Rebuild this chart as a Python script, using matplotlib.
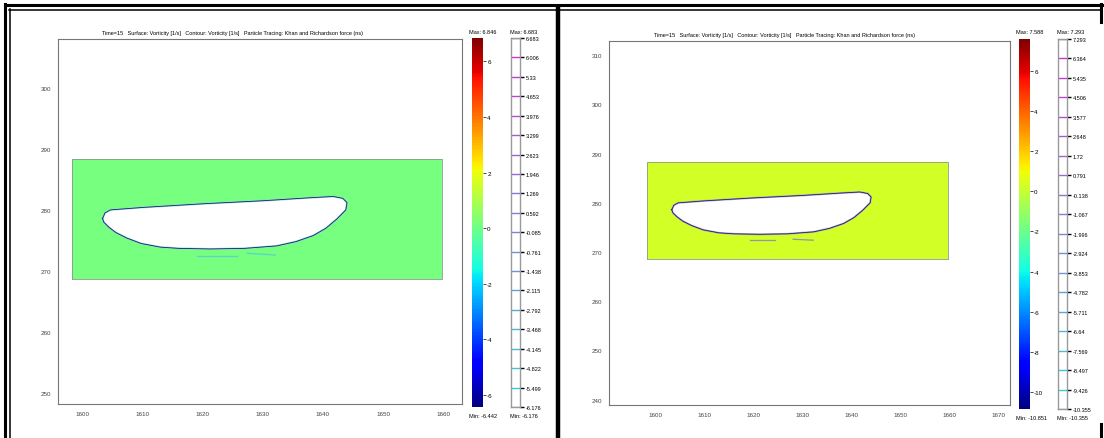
import numpy as np
import matplotlib
matplotlib.use('Agg')
import matplotlib.pyplot as plt
from matplotlib.colors import Normalize
from matplotlib.cm import ScalarMappable
from matplotlib.lines import Line2D

plt.rcParams['font.family'] = ['Liberation Sans', 'DejaVu Sans']
plt.rcParams['axes.unicode_minus'] = False

# ---- data ----
title = 'Time=15   Surface: Vorticity [1/s]   Contour: Vorticity [1/s]   Particle Tracing: Khan and Richardson force (ns)'

domain_x = [1598.3, 1659.7]
domain_y = [268.6, 288.4]

body_x = [1603.4, 1603.8, 1604.7, 1610.0, 1620.0, 1630.0, 1638.0, 1641.7, 1643.3, 1644.0,
          1643.8, 1642.3, 1640.5, 1638.4, 1635.5, 1632.3, 1627.0, 1621.3, 1616.0, 1613.0,
          1609.8, 1607.4, 1605.6, 1604.4, 1603.6]
body_y = [278.6, 279.5, 280.0, 280.4, 281.0, 281.5, 282.0, 282.2, 281.9, 281.2,
          280.0, 278.5, 277.0, 275.8, 274.8, 274.1, 273.7, 273.6, 273.7, 273.9,
          274.5, 275.4, 276.3, 277.2, 278.0]

# left panel
surf_left = 0.1
range_left = [-6.442, 6.846]
levels_left = [6.683, 6.006, 5.33, 4.653, 3.976, 3.299, 2.623, 1.946, 1.269, 0.592,
               -0.085, -0.761, -1.438, -2.115, -2.792, -3.468, -4.145, -4.822, -5.499, -6.176]
cticks_left = [-6, -4, -2, 0, 2, 4, 6]
xticks_left = [1600, 1610, 1620, 1630, 1640, 1650, 1660]
yticks_left = [250, 260, 270, 280, 290, 300]
streaks_left = [([1619.1, 1625.7], [272.5, 272.5]), ([1627.4, 1632.1], [272.9, 272.6])]

# right panel
surf_right = 0.3
range_right = [-10.851, 7.588]
levels_right = [7.293, 6.364, 5.435, 4.506, 3.577, 2.648, 1.72, 0.791, -0.138, -1.067,
                -1.996, -2.924, -3.853, -4.782, -5.711, -6.64, -7.569, -8.497, -9.426, -10.355]
cticks_right = [-10, -8, -6, -4, -2, 0, 2, 4, 6]
xticks_right = [1600, 1610, 1620, 1630, 1640, 1650, 1660, 1670]
yticks_right = [240, 250, 260, 270, 280, 290, 300, 310]
streaks_right = [([1619.3, 1624.5], [272.4, 272.4]), ([1628.1, 1632.2], [272.6, 272.4])]

W, H = 1104, 439
fig = plt.figure(figsize=(W / 100, H / 100), dpi=100)


def box(x0, y0, x1, y1):
    return [x0 / W, 1 - y1 / H, (x1 - x0) / W, (y1 - y0) / H]


def panel(axp, cbp, clp, xlim, ylim, xt, yt, surf, rng, levels, cticks, streaks,
          title_x, title_y, halo, edge):
    ax = fig.add_axes(box(*axp))
    norm = Normalize(rng[0], rng[1])
    ax.pcolormesh(domain_x, domain_y, [[surf]], cmap='jet', norm=norm, shading='flat')
    ax.plot([domain_x[0], domain_x[1], domain_x[1], domain_x[0], domain_x[0]],
            [domain_y[0], domain_y[0], domain_y[1], domain_y[1], domain_y[0]],
            color='#8a9a8a', lw=0.6)
    ax.fill(body_x, body_y, color='white', zorder=3)
    bx = body_x + body_x[:1]
    by = body_y + body_y[:1]
    ax.plot(bx, by, color=halo, lw=1.4, alpha=0.6, zorder=4)
    ax.plot(bx, by, color=edge, lw=0.6, zorder=5)
    for sx, sy in streaks:
        ax.plot(sx, sy, color=halo, lw=0.9, alpha=0.8, zorder=4)
    ax.set_xlim(xlim)
    ax.set_ylim(ylim)
    ax.set_xticks(xt)
    ax.set_yticks(yt)
    ax.tick_params(labelsize=4.5, length=0, pad=5, colors='#444')
    for s in ax.spines.values():
        s.set_color('#777')
        s.set_linewidth(0.8)
    fig.text(title_x / W, 1 - title_y / H, title, fontsize=4, ha='center', va='center')

    # surface colorbar
    cax = fig.add_axes(box(*cbp))
    cb = fig.colorbar(ScalarMappable(norm=norm, cmap='jet'), cax=cax, ticks=cticks)
    cb.outline.set_linewidth(0)
    cb.ax.tick_params(labelsize=4.5, length=2, width=0.5, pad=1)
    fig.text((cbp[0] - 3) / W, 1 - (cbp[1] - 7) / H, 'Max: %g' % rng[1], fontsize=4, va='center')
    fig.text((cbp[0] - 3) / W, 1 - (cbp[3] + 9) / H, 'Min: %g' % rng[0], fontsize=4, va='center')

    # contour legend
    cl = fig.add_axes(box(*clp))
    cn = Normalize(min(levels), max(levels))
    cols = [tuple(0.7 * np.array(plt.cm.cool(cn(v))[:3]) + 0.3 * 0.5) for v in levels]
    cl.hlines(levels, 0, 1, colors=cols, lw=1.0)
    cl.set_xlim(0, 1)
    cl.set_ylim(min(levels), max(levels))
    cl.set_xticks([])
    cl.yaxis.tick_right()
    cl.set_yticks(levels)
    cl.set_yticklabels(['%g' % v for v in levels])
    cl.tick_params(axis='y', labelsize=4, length=3, width=1.0, pad=1)
    for tk, c in zip(cl.yaxis.get_major_ticks(), cols):
        tk.tick2line.set_color(c)
    for s in cl.spines.values():
        s.set_color('#999')
        s.set_linewidth(1)
    fig.text((clp[0] - 1) / W, 1 - (clp[1] - 7) / H, 'Max: %g' % max(levels), fontsize=4, va='center')
    fig.text((clp[0] - 1) / W, 1 - (clp[3] + 9) / H, 'Min: %g' % min(levels), fontsize=4, va='center')


panel((58, 40, 462, 405), (472, 39, 483, 408), (511, 39, 520, 408),
      (1596.0, 1663.1), (248.2, 308.0), xticks_left, yticks_left,
      surf_left, range_left, levels_left, cticks_left, streaks_left,
      233, 34, '#55c8d8', '#14205a')
panel((609, 42, 1010, 406), (1019, 40, 1030, 410), (1058, 40, 1067, 410),
      (1590.6, 1672.3), (238.9, 312.9), xticks_right, yticks_right,
      surf_right, range_right, levels_right, cticks_right, streaks_right,
      785, 35, '#8878d0', '#202050')

# table frame of the scanned page
def fline(x, y, lw):
    fig.add_artist(Line2D([v / W for v in x], [1 - v / H for v in y], color='black',
                          lw=lw, transform=fig.transFigure))

fline([5, 1103], [5.5, 5.5], 2.2)
fline([9, 1101], [10.5, 10.5], 1.1)
fline([5.5, 5.5], [5, 439], 2.2)
fline([10, 10], [10, 439], 1.1)
fline([558, 558], [10, 439], 3.2)
fline([1101, 1101], [5, 23], 2.2)
fline([1101, 1101], [425, 439], 2.2)

fig.savefig('out.png', dpi=100)
